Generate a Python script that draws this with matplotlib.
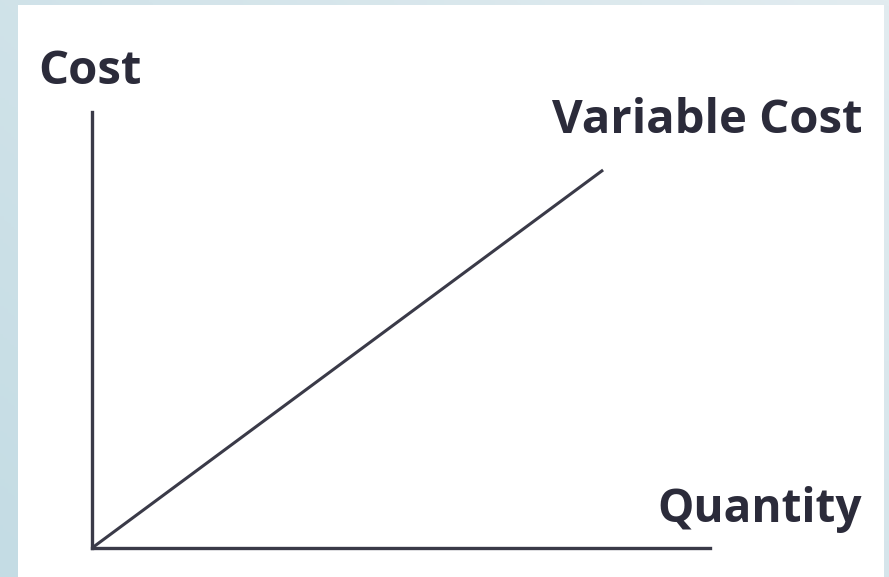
import numpy as np
import matplotlib
matplotlib.use("Agg")
import matplotlib.pyplot as plt
from matplotlib.patches import Rectangle

# data: a straight variable-cost line starting at the origin
quantity = [0.0, 8.27]
variable_cost = [0.0, 8.67]

x_label = "Quantity"
y_label = "Cost"
line_label = "Variable Cost"

W, H = 889, 577
fig = plt.figure(figsize=(W / 100, H / 100), dpi=100)

# soft blue background with a white card on top
bg = fig.add_axes([0, 0, 1, 1])
grad = np.linspace(0, 1, 256)
gx, gy = np.meshgrid(grad, grad)
bg.imshow(0.6 * gx + 0.4 * gy, cmap=matplotlib.colors.LinearSegmentedColormap.from_list(
    "bgc", ["#c4dce4", "#e2ecf0"]), extent=[0, 1, 0, 1], aspect="auto", origin="lower")
bg.add_patch(Rectangle((18 / W, 0), (884 - 18) / W, (577 - 5) / H, facecolor="white",
                       edgecolor="none", transform=bg.transAxes))
bg.set_xlim(0, 1)
bg.set_ylim(0, 1)
bg.axis("off")

ink = "#3a3a48"
ax = fig.add_axes([92 / W, (H - 548) / H, (710 - 92) / W, (548 - 112) / H])
ax.patch.set_alpha(0)
ax.plot(quantity, variable_cost, color=ink, lw=2.2, solid_capstyle="butt")
ax.set_xlim(0, 10)
ax.set_ylim(0, 10)
for s in ["top", "right"]:
    ax.spines[s].set_visible(False)
for s in ["left", "bottom"]:
    ax.spines[s].set_color(ink)
    ax.spines[s].set_linewidth(2.4)
ax.set_xticks([])
ax.set_yticks([])

txt = dict(family=["Open Sans", "DejaVu Sans"], weight="bold", color="#2b2b3a")
fig.text(38 / W, 1 - 84 / H, y_label, fontsize=34, ha="left", va="baseline", **txt)
fig.text(863 / W, 1 - 133 / H, line_label, fontsize=34, ha="right", va="baseline", **txt)
fig.text(862 / W, 1 - 522 / H, x_label, fontsize=33, ha="right", va="baseline", **txt)

fig.savefig("out.png", dpi=100)
